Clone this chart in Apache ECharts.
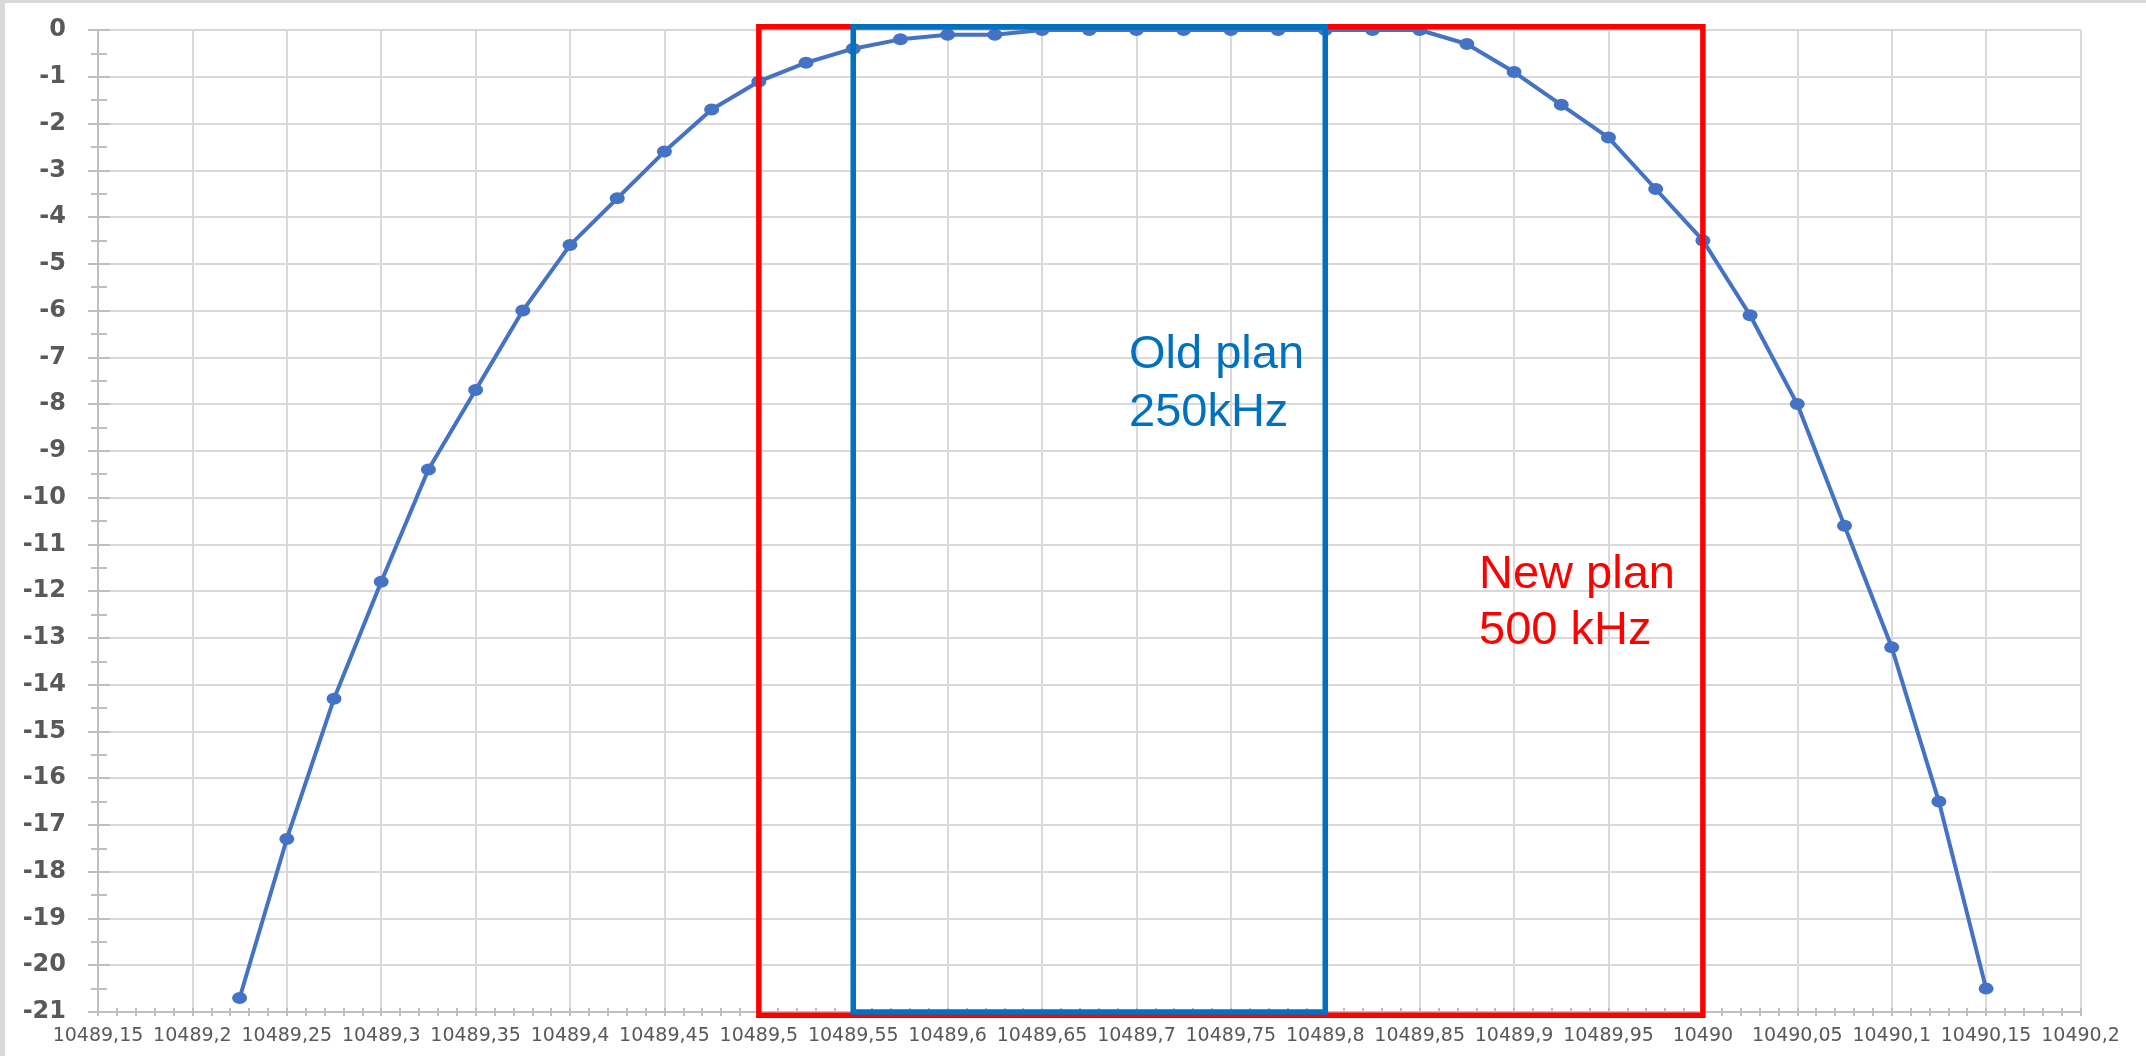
<!DOCTYPE html>
<html>
<head>
<meta charset="utf-8">
<title>Filter response</title>
<script src="https://cdn.jsdelivr.net/npm/echarts@6/dist/echarts.min.js"></script>
<style>
  html, body { margin: 0; padding: 0; background: #fff; }
  #chart { width: 2146px; height: 1056px; }
</style>
</head>
<body>
<div id="chart"></div>
<script>
// frequency (MHz) of each measured point
const freqs = [
  10489.225, 10489.25, 10489.275, 10489.3, 10489.325, 10489.35, 10489.375, 10489.4,
  10489.425, 10489.45, 10489.475, 10489.5, 10489.525, 10489.55, 10489.575, 10489.6,
  10489.625, 10489.65, 10489.675, 10489.7, 10489.725, 10489.75, 10489.775, 10489.8,
  10489.825, 10489.85, 10489.875, 10489.9, 10489.925, 10489.95, 10489.975, 10490,
  10490.025, 10490.05, 10490.075, 10490.1, 10490.125, 10490.15
]
// level (dB)
const levels = [
  -20.7, -17.3, -14.3, -11.8, -9.4, -7.7, -6.0, -4.6,
  -3.6, -2.6, -1.7, -1.1, -0.7, -0.4, -0.2, -0.1,
  -0.1, 0, 0, 0, 0, 0, 0, 0,
  0, 0, -0.3, -0.9, -1.6, -2.3, -3.4, -4.5,
  -6.1, -8.0, -10.6, -13.2, -16.5, -20.5
]
// plan boxes: [fromFreq, toFreq, topLevel, bottomLevel]
const newPlan = [10489.5, 10490, 0.07, -21.07]
const oldPlan = [10489.55, 10489.8, 0.07, -21.0]

const xMin = 10489.15, xMax = 10490.2, xStep = 0.05
const yMin = -21, yMax = 0, yStep = 1

const gridColor = '#d9d9d9'
const axisColor = '#bfbfbf'
const labelColor = '#595959'

const myChart = echarts.init(document.getElementById('chart'))

const fmtFreq = (v) => String(Math.round(v * 100) / 100).replace('.', ',')

const boxRender = (color) => (params, api) => {
  const p0 = api.coord([api.value(0), api.value(2)])
  const p1 = api.coord([api.value(1), api.value(3)])
  return {
    type: 'rect',
    shape: { x: p0[0], y: p0[1], width: p1[0] - p0[0], height: p1[1] - p0[1] },
    style: { fill: 'none', stroke: color, lineWidth: 5.5, lineJoin: 'miter' },
  }
}

const options = {
  animation: false,
  backgroundColor: '#fff',
  grid: { left: 98, right: 65.5, top: 30, bottom: 44 },
  xAxis: [
    {
      type: 'value',
      min: xMin, max: xMax, interval: xStep,
      position: 'bottom',
      axisLine: { onZero: false, lineStyle: { color: axisColor, width: 2 } },
      axisTick: { length: 4, lineStyle: { color: axisColor, width: 2 } },
      minorTick: { show: true, splitNumber: 5, length: 4, lineStyle: { color: axisColor, width: 2 } },
      splitLine: { show: true, lineStyle: { color: gridColor, width: 2 } },
      axisLabel: {
        margin: 15,
        color: labelColor,
        fontSize: 19,
        fontFamily: 'DejaVu Sans',
        formatter: fmtFreq,
      },
    },
    {
      // second axis only for the inner half of the ticks
      type: 'value',
      min: xMin, max: xMax, interval: xStep,
      position: 'bottom',
      axisLine: { show: false, onZero: false },
      axisTick: { inside: true, length: 4, lineStyle: { color: axisColor, width: 2 } },
      minorTick: { show: true, splitNumber: 5, length: 4, lineStyle: { color: axisColor, width: 2 } },
      splitLine: { show: false },
      axisLabel: { show: false },
    },
  ],
  yAxis: [
    {
      type: 'value',
      min: yMin, max: yMax, interval: yStep,
      position: 'left',
      axisLine: { show: true, onZero: false, lineStyle: { color: axisColor, width: 2 } },
      axisTick: { show: true, length: 10, lineStyle: { color: axisColor, width: 2 } },
      minorTick: { show: true, splitNumber: 2, length: 7, lineStyle: { color: axisColor, width: 2 } },
      splitLine: { show: true, lineStyle: { color: gridColor, width: 2 } },
      axisLabel: {
        margin: 32,
        color: labelColor,
        fontSize: 24,
        fontWeight: 'bold',
        fontFamily: 'DejaVu Sans',
      },
    },
    {
      type: 'value',
      min: yMin, max: yMax, interval: yStep,
      position: 'left',
      axisLine: { show: false, onZero: false },
      axisTick: { show: true, inside: true, length: 12, lineStyle: { color: axisColor, width: 2 } },
      minorTick: { show: true, splitNumber: 2, length: 9, lineStyle: { color: axisColor, width: 2 } },
      splitLine: { show: false },
      axisLabel: { show: false },
    },
  ],
  series: [
    {
      type: 'line',
      data: freqs.map((f, i) => [f, levels[i]]),
      symbol: 'circle',
      symbolSize: [15, 12],
      showAllSymbol: true,
      lineStyle: { color: '#4472C4', width: 4 },
      itemStyle: { color: '#4472C4' },
      z: 2,
    },
    {
      type: 'custom',
      renderItem: boxRender('#ff0000'),
      data: [newPlan],
      z: 3,
      silent: true,
    },
    {
      type: 'custom',
      renderItem: boxRender('#0070c0'),
      data: [oldPlan],
      z: 4,
      silent: true,
    },
  ],
  graphic: [
    // light grey frame on top and left edges
    { type: 'rect', shape: { x: 0, y: 0, width: 2146, height: 3 }, style: { fill: '#d9d9d9' }, z: 100 },
    { type: 'rect', shape: { x: 0, y: 0, width: 5, height: 1056 }, style: { fill: '#d9d9d9' }, z: 100 },
    {
      type: 'text', x: 1129, y: 355, z: 100,
      style: { text: 'Old plan', fill: '#0070c0', font: '47px "Liberation Sans"', verticalAlign: 'middle' },
    },
    {
      type: 'text', x: 1129, y: 413, z: 100,
      style: { text: '250kHz', fill: '#0070c0', font: '47px "Liberation Sans"', verticalAlign: 'middle' },
    },
    {
      type: 'text', x: 1479, y: 575, z: 100,
      style: { text: 'New plan', fill: '#ff0000', font: '47px "Liberation Sans"', verticalAlign: 'middle' },
    },
    {
      type: 'text', x: 1479, y: 631, z: 100,
      style: { text: '500 kHz', fill: '#ff0000', font: '47px "Liberation Sans"', verticalAlign: 'middle' },
    },
  ],
}
myChart.setOption(options)
</script>
</body>
</html>
